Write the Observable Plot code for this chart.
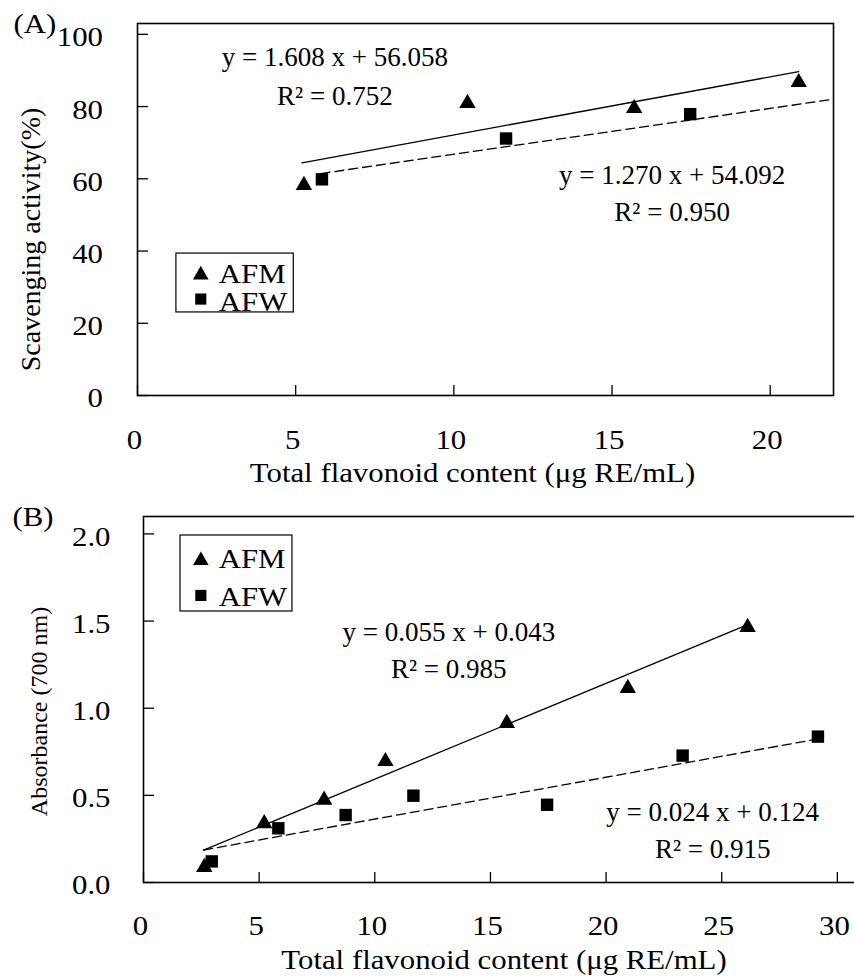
<!DOCTYPE html>
<html>
<head>
<meta charset="utf-8">
<script src="https://cdn.jsdelivr.net/npm/d3@7"></script>
<script src="https://cdn.jsdelivr.net/npm/@observablehq/plot@0.6"></script>
<style>
  html, body { margin: 0; padding: 0; background: #fff; overflow: hidden; }
  #chart { width: 854px; height: 976px; position: relative; }
  #chart svg { display: block; }
</style>
</head>
<body>
<div id="chart"></div>
<script>
// ---------- Panel (A) data: DPPH scavenging activity ----------
const afmA_x = [5.26, 10.43, 15.7, 20.9];
const afmA_y = [58.2, 80.9, 79.5, 86.7];
const afwA_x = [5.83, 11.65, 17.47];
const afwA_y = [59.85, 71.15, 77.9];
const fitA_series = ["AFM", "AFW"];
const fitA_slope = [1.608, 1.270];
const fitA_intercept = [56.058, 54.092];
const fitA_r2 = [0.752, 0.950];
const fitA_from = [5.2, 5.8];
const fitA_to = [20.9, 22];
const xTicksA = [0, 5, 10, 15, 20];
const yTicksA = [0, 20, 40, 60, 80, 100];
const xTickLabelsA = ["0", "5", "10", "15", "20"];
const yTickLabelsA = ["0", "20", "40", "60", "80", "100"];

// ---------- Panel (B) data: reducing power ----------
const afmB_x = [2.63, 5.22, 7.81, 10.46, 15.71, 20.94, 26.12];
const afmB_y = [0.088, 0.338, 0.473, 0.695, 0.914, 1.115, 1.464];
const afwB_x = [2.95, 5.83, 8.74, 11.67, 17.45, 23.31, 29.16];
const afwB_y = [0.121, 0.311, 0.387, 0.498, 0.446, 0.728, 0.837];
const fitB_series = ["AFM", "AFW"];
const fitB_slope = [0.055, 0.024];
const fitB_intercept = [0.043, 0.124];
const fitB_r2 = [0.985, 0.915];
const fitB_from = [2.6, 2.6];
const fitB_to = [26.1, 29.1];
const xTicksB = [0, 5, 10, 15, 20, 25, 30];
const yTicksB = [0, 0.5, 1.0, 1.5, 2.0];
const xTickLabelsB = ["0", "5", "10", "15", "20", "25", "30"];
const yTickLabelsB = ["0.0", "0.5", "1.0", "1.5", "2.0"];

// ---------- Texts ----------
const seriesNames = ["AFM", "AFW"];
const xTitle = "Total flavonoid content (\u03bcg RE/mL)";
const yTitleA = "Scavenging activity(%)";
const yTitleB = "Absorbance (700 nm)";
const tagA = "(A)";
const tagB = "(B)";

// annotation anchors (data units)
const eqPosA = [{x: 6.24, yEq: 93.7, yR2: 82.7}, {x: 16.9, yEq: 61.05, yR2: 50.8}];
const eqPosB = [{x: 13.2, yEq: 1.437, yR2: 1.222}, {x: 24.61, yEq: 0.4045, yR2: 0.193}];
const legendA = {x1: 1.23, x2: 4.94, y1: 23.0, y2: 39.3, markX: 2.0, labelX: 2.57, markY: [33.4, 26.7], labelY: [33.5, 25.9]};
const legendB = {x1: 1.6, x2: 6.44, y1: 1.555, y2: 1.991, markX: 2.48, labelX: 3.25, markY: [1.847, 1.647], labelY: [1.856, 1.638]};

const FONT = '"Liberation Serif", "Times New Roman", Times, serif';
const STRETCH = 1.1;

function zipXY(xs, ys) { return xs.map((x, i) => ({x, y: ys[i]})); }

function buildFits(series, slope, intercept, from, to) {
  const pts = [];
  series.forEach((s, i) => {
    [from[i], to[i]].forEach(x => pts.push({series: s, x, y: slope[i] * x + intercept[i]}));
  });
  return pts;
}

function eqTexts(slope, intercept, r2, pos, digitsS, digitsI) {
  const out = [];
  slope.forEach((s, i) => {
    out.push({x: pos[i].x, y: pos[i].yEq, text: `y = ${s.toFixed(digitsS)} x + ${intercept[i].toFixed(digitsI)}`});
    out.push({x: pos[i].x, y: pos[i].yR2, text: `R\u00b2 = ${r2[i].toFixed(3)}`});
  });
  return out;
}

function panel(cfg) {
  const innerW = 854 - cfg.marginLeft - cfg.marginRight;
  const innerH = cfg.height - cfg.marginTop - cfg.marginBottom;
  const fits = buildFits(cfg.fitSeries, cfg.slope, cfg.intercept, cfg.from, cfg.to);
  const eqs = eqTexts(cfg.slope, cfg.intercept, cfg.r2, cfg.eqPos, 3, 3);
  const lg = cfg.legend;
  const legendMarks = seriesNames.map((s, i) => ({series: s, x: lg.markX, y: lg.markY[i], lx: lg.labelX, ly: lg.labelY[i]}));
  const svg = Plot.plot({
    width: 854,
    height: cfg.height,
    marginTop: cfg.marginTop,
    marginBottom: cfg.marginBottom,
    marginLeft: cfg.marginLeft,
    marginRight: cfg.marginRight,
    x: {domain: cfg.xDomain},
    y: {domain: cfg.yDomain},
    style: {fontFamily: FONT, fontSize: "28px", color: "black", background: "white"},
    marks: [
      Plot.frame({stroke: "black", strokeWidth: 1.6}),
      Plot.tickY(cfg.yTicks, {y: d => d, insetRight: innerW - cfg.tickLenY, stroke: "black", strokeWidth: 1.3}),
      Plot.tickX(cfg.xTicks, {x: d => d, insetTop: innerH - cfg.tickLenX, stroke: "black", strokeWidth: 1.3}),
      Plot.axisX({ticks: cfg.xTicks, tickSize: 0, tickPadding: cfg.xLabelOffset, lineAnchor: "middle", dx: -3,
        tickFormat: d => cfg.xTickLabels[cfg.xTicks.indexOf(d)], label: null, fontSize: 28}),
      Plot.axisY({ticks: cfg.yTicks, tickSize: 0, tickPadding: cfg.yLabelOffset, dy: 3,
        tickFormat: d => cfg.yTickLabels[cfg.yTicks.indexOf(d)], label: null, fontSize: 28}),
      Plot.line(fits.filter(d => d.series === "AFM"), {x: "x", y: "y", stroke: "black", strokeWidth: 1.3}),
      Plot.line(fits.filter(d => d.series === "AFW"), {x: "x", y: "y", stroke: "black", strokeWidth: 1.3, strokeDasharray: "9,5"}),
      Plot.dot(cfg.afw, {x: "x", y: "y", symbol: "square", r: 7, fill: "black", stroke: "none"}),
      Plot.dot(cfg.afm, {x: "x", y: "y", symbol: "triangle", r: 6.1, fill: "black", stroke: "none"}),
      Plot.text(eqs, {x: "x", y: "y", text: "text", textAnchor: "middle", lineAnchor: "middle", fontSize: 27, fill: "black"}),
      Plot.rect([lg], {x1: "x1", x2: "x2", y1: "y1", y2: "y2", fill: "white", stroke: "black", strokeWidth: 1.2}),
      Plot.dot(legendMarks.filter(d => d.series === "AFM"), {x: "x", y: "y", symbol: "triangle", r: 5.8, fill: "black"}),
      Plot.dot(legendMarks.filter(d => d.series === "AFW"), {x: "x", y: "y", symbol: "square", r: 6.3, fill: "black"}),
      Plot.text(legendMarks, {x: "lx", y: "ly", text: "series", textAnchor: "start", lineAnchor: "middle", fontSize: 28, fill: "black", ariaDescription: "stretch"}),
      Plot.text([cfg.tag], {text: d => d, frameAnchor: "top-left", dx: cfg.tagDx, dy: 0.5, textAnchor: "start", lineAnchor: "middle", fontSize: 28, ariaDescription: "stretch"}),
      Plot.text([xTitle], {text: d => d, frameAnchor: "bottom", dx: cfg.xTitleDx, dy: cfg.xTitleDy, textAnchor: "middle", lineAnchor: "middle", fontSize: 28, ariaDescription: "stretch"}),
      Plot.text([cfg.yTitle], {text: d => d, frameAnchor: "left", dx: cfg.yTitleDx, dy: cfg.yTitleDy, rotate: -90, textAnchor: "middle", lineAnchor: "middle", fontSize: cfg.yTitleSize})
    ]
  });
  svg.querySelectorAll('g[aria-label="x-axis tick label"] text, g[aria-label="y-axis tick label"] text, g[aria-description="stretch"] text').forEach(t => {
    const tr = t.getAttribute("transform");
    if (tr) t.setAttribute("transform", tr + ` scale(${STRETCH},1)`);
    else {
      const x = parseFloat(t.getAttribute("x")) || 0;
      t.setAttribute("transform", `translate(${x},0) scale(${STRETCH},1) translate(${-x},0)`);
    }
  });
  return svg;
}

const chart = document.getElementById("chart");
chart.appendChild(panel({
  height: 492, marginTop: 23, marginBottom: 97, marginLeft: 137, marginRight: 21,
  xDomain: [0, 22], yDomain: [0, 103],
  xTicks: xTicksA, yTicks: yTicksA, xTickLabels: xTickLabelsA, yTickLabels: yTickLabelsA,
  tickLenX: 10, tickLenY: 11, xLabelOffset: 45, yLabelOffset: 34.5,
  afm: zipXY(afmA_x, afmA_y), afw: zipXY(afwA_x, afwA_y),
  fitSeries: fitA_series, slope: fitA_slope, intercept: fitA_intercept, r2: fitA_r2, from: fitA_from, to: fitA_to,
  eqPos: eqPosA, legend: legendA, tag: tagA, tagDx: -124,
  xTitleDx: -13, xTitleDy: 78, yTitle: yTitleA, yTitleDx: -106, yTitleDy: 30, yTitleSize: 28
}));
chart.appendChild(panel({
  height: 484, marginTop: 24, marginBottom: 94, marginLeft: 143, marginRight: -6,
  xDomain: [0, 31], yDomain: [0, 2.1],
  xTicks: xTicksB, yTicks: yTicksB, xTickLabels: xTickLabelsB, yTickLabels: yTickLabelsB,
  tickLenX: 10, tickLenY: 11, xLabelOffset: 44, yLabelOffset: 33,
  afm: zipXY(afmB_x, afmB_y), afw: zipXY(afwB_x, afwB_y),
  fitSeries: fitB_series, slope: fitB_slope, intercept: fitB_intercept, r2: fitB_r2, from: fitB_from, to: fitB_to,
  eqPos: eqPosB, legend: legendB, tag: tagB, tagDx: -131,
  xTitleDx: 2, xTitleDy: 78, yTitle: yTitleB, yTitleDx: -104, yTitleDy: 12, yTitleSize: 24
}));
</script>
</body>
</html>
